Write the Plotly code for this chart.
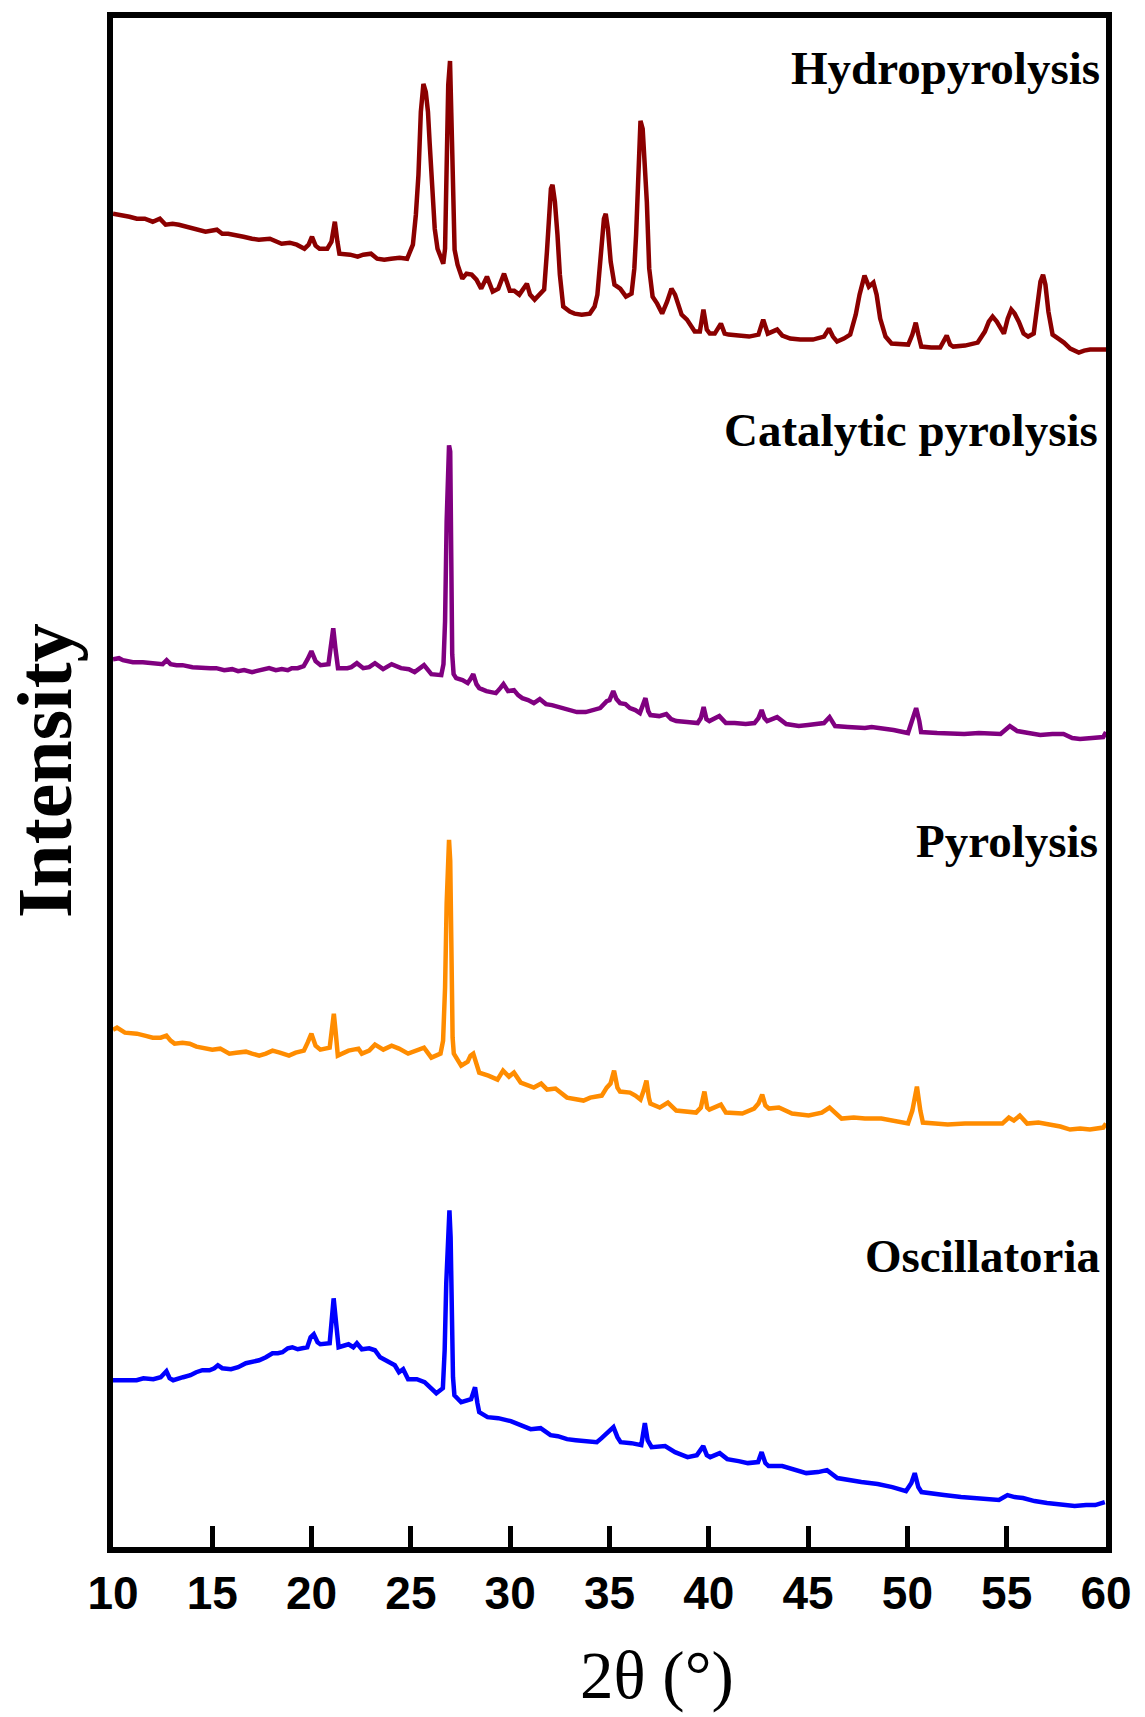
import plotly.graph_objects as go

# ---------------- data (2theta in degrees, intensity in arbitrary units, stacked offsets as drawn) -------------
hydro_x = [10.0, 10.4, 10.83, 11.2, 11.6, 12.0, 12.36, 12.65, 13.0, 13.32, 13.7, 14.08, 14.66, 15.23, 15.5, 15.8,
           16.2, 16.57, 17.0, 17.34, 17.9, 18.2, 18.49, 18.9, 19.25, 19.64, 19.85, 20.02, 20.2, 20.4, 20.79, 21.0,
           21.17, 21.3, 21.4, 21.94, 22.32, 22.6, 22.99, 23.3, 23.66, 24.0, 24.43, 24.81, 25.1, 25.25, 25.38, 25.5,
           25.63, 25.75, 25.86, 25.95, 26.05, 26.2, 26.34, 26.63, 26.72, 26.8, 26.88, 26.97, 27.02, 27.07, 27.2,
           27.35, 27.59, 27.8, 28.06, 28.3, 28.54, 28.83, 29.12, 29.4, 29.69, 29.98, 30.2, 30.46, 30.84, 31.0,
           31.23, 31.5, 31.71, 31.85, 31.94, 32.05, 32.13, 32.25, 32.38, 32.5, 32.67, 33.0, 33.24, 33.6, 34.01,
           34.25, 34.39, 34.5, 34.62, 34.72, 34.81, 34.92, 35.06, 35.25, 35.54, 35.83, 36.11, 36.25, 36.34, 36.45,
           36.56, 36.67, 36.8, 36.88, 37.0, 37.17, 37.4, 37.65, 37.9, 38.12, 38.3, 38.63, 38.9, 39.29, 39.55,
           39.73, 39.9, 40.05, 40.3, 40.61, 40.8, 40.99, 41.5, 42.03, 42.5, 42.74, 42.97, 43.2, 43.44, 43.7, 44.1,
           44.6, 45.24, 45.8, 46.05, 46.25, 46.46, 46.8, 47.12, 47.4, 47.59, 47.84, 48.06, 48.29, 48.45, 48.63,
           48.9, 49.2, 49.6, 50.04, 50.25, 50.42, 50.55, 50.7, 51.2, 51.65, 51.98, 52.15, 52.31, 52.9, 53.54, 53.9,
           54.1, 54.29, 54.5, 54.86, 55.05, 55.23, 55.4, 55.61, 55.85, 56.08, 56.36, 56.55, 56.7, 56.83, 56.95,
           57.1, 57.31, 57.6, 57.88, 58.2, 58.63, 58.9, 59.2, 59.6, 60.0]
hydro_y = [1338, 1337, 1335, 1333, 1333, 1330, 1333, 1327, 1328, 1327, 1325, 1323, 1320, 1322, 1318, 1318,
           1317, 1315, 1313, 1312, 1313, 1310, 1308, 1309, 1307, 1303, 1307, 1315, 1306, 1303, 1303, 1310,
           1330, 1310, 1298, 1297, 1295, 1297, 1298, 1293, 1292, 1293, 1294, 1293, 1307, 1337, 1377, 1440,
           1468, 1460, 1440, 1407, 1377, 1323, 1303, 1288, 1303, 1400, 1467, 1491, 1463, 1410, 1302,
           1287, 1273, 1278, 1277, 1272, 1263, 1275, 1260, 1263, 1278, 1261, 1261, 1257, 1268, 1257,
           1252, 1257, 1262, 1300, 1333, 1363, 1367, 1350, 1317, 1277, 1245, 1240, 1238, 1237, 1238,
           1245, 1257, 1283, 1310, 1333, 1338, 1323, 1290, 1267, 1263, 1255, 1258, 1283, 1317, 1390,
           1431, 1423, 1383, 1350, 1283, 1255, 1248, 1238, 1250, 1263, 1257, 1237, 1232, 1220, 1220,
           1242, 1222, 1218, 1218, 1228, 1218, 1217, 1216, 1215, 1217, 1232, 1218, 1220, 1222, 1216, 1213,
           1212, 1212, 1215, 1223, 1215, 1210, 1213, 1217, 1237, 1257, 1276, 1265, 1269, 1257, 1233,
           1215, 1208, 1207, 1207, 1217, 1229, 1217, 1205, 1204, 1204, 1216, 1207, 1205, 1206, 1209, 1220,
           1230, 1235, 1230, 1218, 1233, 1242, 1238, 1230, 1218, 1215, 1218, 1243, 1270, 1277, 1267,
           1240, 1217, 1213, 1209, 1203, 1199, 1201, 1202, 1202, 1202]

cat_x = [10.0, 10.3, 10.5, 11.0, 11.5, 11.9, 12.2, 12.5, 12.7, 12.9, 13.2, 13.5, 14.0, 14.5, 14.9, 15.2, 15.6,
         16.0, 16.3, 16.6, 17.0, 17.2, 17.5, 17.86, 18.2, 18.5, 18.8, 19.0, 19.3, 19.6, 19.8, 19.99, 20.2, 20.45,
         20.85, 20.98, 21.09, 21.2, 21.33, 21.8, 22.0, 22.28, 22.6, 22.9, 23.19, 23.6, 24.03, 24.5, 24.9, 25.19,
         25.66, 26.03, 26.53, 26.64, 26.72, 26.8, 26.87, 26.92, 26.98, 27.03, 27.08, 27.15, 27.28, 27.6, 27.86,
         28.0, 28.14, 28.3, 28.44, 28.8, 29.28, 29.5, 29.66, 29.89, 30.19, 30.4, 30.61, 30.9, 31.19, 31.49, 31.8,
         32.1, 32.5, 32.9, 33.36, 33.8, 34.19, 34.53, 34.86, 35.0, 35.19, 35.35, 35.53, 35.8, 36.03, 36.3, 36.53,
         36.7, 36.81, 36.95, 37.06, 37.5, 37.86, 38.1, 38.36, 38.9, 39.44, 39.6, 39.74, 39.88, 40.03, 40.53,
         40.86, 41.3, 41.86, 42.3, 42.5, 42.66, 42.8, 42.94, 43.44, 43.9, 44.53, 45.0, 45.53, 45.8, 46.08, 46.36,
         47.0, 47.86, 48.2, 48.69, 49.3, 50.03, 50.25, 50.44, 50.6, 50.69, 51.5, 52.2, 52.86, 53.6, 54.2, 54.69,
         55.16, 55.53, 56.1, 56.69, 57.3, 57.86, 58.3, 58.69, 59.3, 59.86, 60.0]
cat_y = [892, 893, 891, 889, 889, 888, 888, 887, 891, 887, 886, 886, 884, 883, 883, 883, 881,
         882, 880, 881, 879, 880, 881, 883, 881, 882, 881, 883, 883, 885, 892, 900, 890, 886,
         887, 903, 923, 903, 883, 883, 884, 888, 883, 884, 888, 882, 887, 883, 882, 879,
         886, 877, 876, 887, 930, 1030, 1097, 1106, 1100, 997, 897, 877, 873, 871, 868,
         872, 877, 867, 863, 860, 858, 863, 867, 860, 861, 856, 853, 851, 848, 852, 847,
         846, 844, 842, 839, 839, 841, 843, 850, 851, 860, 852, 848, 847, 843, 841, 838,
         847, 853, 840, 836, 835, 837, 832, 830, 829, 828, 833, 844, 832, 830, 835,
         828, 828, 827, 828, 833, 841, 833, 830, 834, 827, 825, 826, 827, 828, 834, 825,
         824, 823, 824, 823, 821, 818, 830, 843, 830, 819, 818, 817, 817, 818, 817, 817,
         825, 820, 818, 816, 817, 817, 813, 812, 813, 814, 819]

pyro_x = [10.0, 10.2, 10.6, 11.2, 11.6, 12.0, 12.4, 12.69, 12.9, 13.1, 13.5, 13.86, 14.2, 14.5, 15.0, 15.4,
          15.86, 16.2, 16.69, 17.0, 17.36, 17.7, 18.03, 18.4, 18.86, 19.2, 19.61, 19.8, 19.99, 20.2, 20.44, 20.91,
          21.0, 21.12, 21.22, 21.32, 21.86, 22.36, 22.53, 22.9, 23.19, 23.61, 24.03, 24.4, 24.86, 25.3, 25.66,
          26.03, 26.3, 26.49, 26.62, 26.72, 26.8, 26.87, 26.92, 26.98, 27.04, 27.1, 27.16, 27.53, 27.86, 28.0,
          28.14, 28.3, 28.44, 28.9, 29.36, 29.64, 29.94, 30.19, 30.53, 31.19, 31.56, 31.86, 32.28, 32.86, 33.3,
          33.69, 34.03, 34.61, 34.86, 35.05, 35.23, 35.4, 35.53, 36.03, 36.3, 36.56, 36.72, 36.86, 36.98, 37.06,
          37.53, 37.94, 38.36, 38.9, 39.36, 39.6, 39.78, 39.92, 40.03, 40.61, 40.86, 41.69, 42.28, 42.5, 42.69,
          42.85, 43.03, 43.53, 44.19, 45.03, 45.69, 46.08, 46.69, 47.3, 47.86, 48.69, 49.4, 50.03, 50.25, 50.48,
          50.65, 50.78, 51.4, 52.03, 52.9, 53.69, 54.3, 54.78, 55.11, 55.36, 55.66, 56.03, 56.6, 57.19, 57.7,
          58.19, 58.7, 59.19, 59.6, 59.86, 60.0]
pyro_y = [521, 523, 518, 517, 515, 513, 513, 515, 510, 507, 508, 507, 504, 503, 501, 502,
          497, 498, 499, 497, 495, 497, 500, 498, 495, 498, 500, 508, 517, 505, 501, 503,
          520, 537, 517, 495, 500, 502, 497, 500, 506, 501, 505, 502, 497, 500, 503,
          493, 495, 497, 510, 563, 647, 703, 711, 690, 587, 513, 497, 485, 489, 495,
          497, 485, 478, 475, 471, 480, 474, 478, 468, 463, 467, 461, 462, 453, 451,
          450, 453, 455, 463, 467, 480, 463, 459, 458, 455, 451, 460, 470, 453, 447,
          443, 448, 440, 439, 438, 443, 459, 443, 441, 446, 438, 437, 442, 447, 456,
          445, 442, 443, 437, 435, 438, 443, 432, 433, 432, 432, 429, 427, 440, 464,
          440, 428, 427, 426, 427, 427, 428, 427, 433, 430, 435, 427, 428, 426, 424,
          421, 422, 421, 422, 423, 427]

osc_x = [10.0, 10.5, 11.19, 11.53, 12.03, 12.4, 12.69, 12.85, 13.03, 13.53, 13.9, 14.19, 14.5, 14.86, 15.1,
         15.28, 15.5, 15.94, 16.3, 16.69, 17.0, 17.36, 17.7, 18.03, 18.3, 18.53, 18.8, 19.03, 19.3, 19.53, 19.78,
         19.95, 20.11, 20.3, 20.44, 20.91, 21.0, 21.11, 21.22, 21.36, 21.86, 22.1, 22.28, 22.53, 22.9, 23.19,
         23.45, 23.69, 24.0, 24.19, 24.4, 24.61, 24.86, 25.3, 25.69, 26.0, 26.28, 26.61, 26.7, 26.78, 26.87,
         26.94, 27.0, 27.06, 27.12, 27.19, 27.53, 28.03, 28.23, 28.35, 28.44, 28.86, 29.4, 30.03, 30.5, 31.03,
         31.53, 32.03, 32.4, 32.86, 33.3, 33.69, 34.36, 34.6, 34.86, 35.2, 35.4, 35.56, 36.1, 36.6, 36.78, 36.92,
         37.12, 37.5, 37.8, 38.3, 38.93, 39.4, 39.72, 39.9, 40.07, 40.55, 40.93, 41.5, 41.97, 42.48, 42.66, 42.85,
         43.01, 43.7, 44.3, 44.91, 45.5, 45.95, 46.47, 47.0, 47.68, 48.5, 49.24, 49.93, 50.2, 50.37, 50.55, 50.71,
         51.3, 51.84, 52.7, 53.57, 54.61, 55.04, 55.4, 55.82, 56.4, 57.03, 57.7, 58.42, 59.0, 59.46, 59.94]
osc_y = [170, 170, 170, 172, 171, 173, 179, 172, 170, 173, 175, 178, 180, 180, 182,
         185, 182, 181, 183, 187, 188, 190, 193, 197, 197, 198, 202, 203, 201, 202, 203,
         213, 216, 208, 206, 207, 227, 252, 230, 203, 206, 203, 207, 201, 202, 200,
         193, 190, 187, 185, 178, 181, 171, 171, 168, 162, 157, 162, 200, 267, 327,
         340, 313, 233, 173, 155, 148, 151, 163, 147, 138, 133, 132, 129, 125, 121,
         122, 115, 114, 111, 110, 109, 108, 112, 117, 123, 113, 108, 107, 105, 127, 110,
         103, 103, 104, 98, 93, 95, 104, 95, 93, 97, 91, 89, 87, 88, 98, 87,
         84, 84, 80, 77, 78, 80, 72, 70, 68, 66, 63, 59, 67, 77, 63, 58,
         57, 55, 53, 52, 50, 55, 53, 52, 49, 47, 46, 44, 45, 45, 48]

series_names = ["Hydropyrolysis", "Catalytic pyrolysis", "Pyrolysis", "Oscillatoria"]
series_colors = ["#8B0000", "#800080", "#FF8C00", "#0000FF"]
x_ticks = [10, 15, 20, 25, 30, 35, 40, 45, 50, 55, 60]

# ---------------- figure ----------------
W, H = 1145, 1717
ML, MR, MT, MB = 113, 39, 16, 170
PLOT_H = H - MT - MB
Y_RANGE = [3, 1534]

fig = go.Figure()
for name, xs, ys, col in zip(series_names,
                              [hydro_x, cat_x, pyro_x, osc_x],
                              [hydro_y, cat_y, pyro_y, osc_y],
                              series_colors):
    fig.add_trace(go.Scatter(x=xs, y=ys, mode="lines", name=name,
                             line=dict(color=col, width=4.5), showlegend=False))


def px_x(X):
    return (X - ML) / (W - ML - MR)


def px_y(Y):
    return (H - MB - Y) / PLOT_H


label_pos = [(1102, 66), (1100, 429), (1100, 840), (1102, 1256)]
for name, (X, Y) in zip(series_names, label_pos):
    fig.add_annotation(text=name, xref="paper", yref="paper", x=px_x(X), y=px_y(Y),
                       xanchor="right", yanchor="middle", showarrow=False,
                       font=dict(family="Liberation Serif", size=47, color="black", weight="bold"))

fig.add_annotation(text="Intensity", xref="paper", yref="paper", x=px_x(44), y=px_y(770),
                   xanchor="center", yanchor="middle", showarrow=False, textangle=-90,
                   font=dict(family="Liberation Serif", size=78, color="black", weight="bold"))
fig.add_annotation(text="2θ (°)", xref="paper", yref="paper", x=px_x(657), y=px_y(1676),
                   xanchor="center", yanchor="middle", showarrow=False,
                   font=dict(family="Liberation Serif", size=67, color="black"))

fig.update_layout(
    width=W, height=H,
    margin=dict(l=ML, r=MR, t=MT, b=MB),
    paper_bgcolor="white", plot_bgcolor="white",
    xaxis=dict(range=[10, 60], tickvals=x_ticks, ticktext=[str(v) for v in x_ticks],
               ticks="inside", ticklen=21, tickwidth=5, tickcolor="black",
               showgrid=False, zeroline=False,
               showline=True, linecolor="black", linewidth=6, mirror=True,
               tickfont=dict(family="Liberation Sans", size=46, color="black", weight="bold"),
               ticklabelstandoff=1),
    yaxis=dict(range=Y_RANGE, showticklabels=False, ticks="", showgrid=False,
               zeroline=False, showline=True, linecolor="black", linewidth=6, mirror=True),
)

fig.write_html("out.html")
